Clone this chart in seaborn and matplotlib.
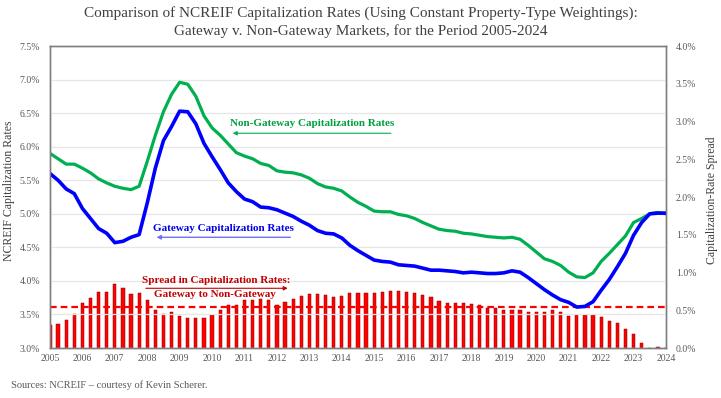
import matplotlib
matplotlib.use('Agg')
import matplotlib.pyplot as plt
import seaborn as sns
import numpy as np
import pandas as pd

# quarterly NCREIF cap rates (%), 2005Q1 - 2024Q1
quarters = pd.period_range('2005Q1', '2024Q1', freq='Q')
non_gateway = [5.90, 5.82, 5.74, 5.74, 5.68, 5.61, 5.52, 5.46, 5.41, 5.38,
               5.36, 5.41, 5.78, 6.17, 6.52, 6.78, 6.96, 6.93, 6.75, 6.46,
               6.28, 6.17, 6.04, 5.91, 5.86, 5.82, 5.75, 5.72, 5.64, 5.62,
               5.61, 5.58, 5.53, 5.45, 5.40, 5.38, 5.34, 5.25, 5.17, 5.11,
               5.04, 5.03, 5.03, 4.99, 4.97, 4.93, 4.87, 4.82, 4.77, 4.75,
               4.74, 4.71, 4.70, 4.68, 4.66, 4.65, 4.64, 4.65, 4.62, 4.53,
               4.43, 4.33, 4.29, 4.23, 4.13, 4.06, 4.05, 4.12, 4.29, 4.41,
               4.54, 4.67, 4.87, 4.93, 5.00, 5.02, 5.00]
gateway = [5.60, 5.50, 5.37, 5.30, 5.08, 4.93, 4.78, 4.71, 4.57, 4.59,
           4.65, 4.69, 5.16, 5.68, 6.09, 6.30, 6.53, 6.52, 6.34, 6.05,
           5.85, 5.66, 5.46, 5.33, 5.22, 5.18, 5.10, 5.09, 5.06, 5.01,
           4.96, 4.89, 4.83, 4.75, 4.71, 4.70, 4.64, 4.53, 4.45, 4.38,
           4.31, 4.29, 4.28, 4.24, 4.23, 4.22, 4.19, 4.16, 4.16, 4.15,
           4.14, 4.12, 4.13, 4.12, 4.11, 4.11, 4.12, 4.15, 4.13, 4.05,
           3.96, 3.87, 3.79, 3.72, 3.68, 3.61, 3.62, 3.69, 3.86, 4.02,
           4.21, 4.41, 4.68, 4.87, 5.00, 5.01, 5.01]
spread = [0.305, 0.32, 0.375, 0.45, 0.59, 0.66, 0.74, 0.74, 0.845, 0.80,
          0.72, 0.73, 0.64, 0.50, 0.45, 0.48, 0.43, 0.40, 0.40, 0.40,
          0.44, 0.50, 0.575, 0.57, 0.64, 0.64, 0.65, 0.64, 0.575, 0.615,
          0.655, 0.695, 0.71, 0.71, 0.70, 0.67, 0.695, 0.73, 0.725, 0.725,
          0.73, 0.74, 0.75, 0.75, 0.74, 0.735, 0.70, 0.67, 0.62, 0.59,
          0.60, 0.60, 0.585, 0.57, 0.535, 0.535, 0.51, 0.505, 0.505, 0.48,
          0.48, 0.475, 0.51, 0.48, 0.42, 0.44, 0.44, 0.44, 0.415, 0.36,
          0.33, 0.25, 0.18, 0.06, 0.0, 0.02, -0.01]
spread_avg = 0.54
year_ticks = list(range(2005, 2025))

sns.set_theme(style='white')
plt.rcParams['font.family'] = ['Liberation Serif', 'DejaVu Serif']

t = quarters.year + (quarters.quarter - 1) / 4
df = pd.DataFrame({'t': t, 'non_gateway': non_gateway, 'gateway': gateway, 'spread': spread})

fig = plt.figure(figsize=(7.21, 3.98), dpi=100)
ax = fig.add_axes([0.0693, 0.1256, 0.8544, 0.7588])
ax2 = ax.twinx()

# spread bars on the right axis
sns.barplot(data=df, x='t', y='spread', ax=ax2, native_scale=True, width=0.4,
            color='#ff0000', saturation=1, edgecolor='#8a0000', linewidth=0.35, errorbar=None)
ax2.axhline(spread_avg, color='#ff0000', lw=1.6, ls=(0, (3, 1.8)))

# cap rate lines on the left axis, drawn above the bars
ax.set_zorder(ax2.get_zorder() + 1)
ax.patch.set_visible(False)
sns.lineplot(data=df, x='t', y='non_gateway', ax=ax, color='#00b050', lw=2.3)
sns.lineplot(data=df, x='t', y='gateway', ax=ax, color='#0000ff', lw=2.6)

ax.set_xlim(2005, 2024)
ax.set_ylim(3.0, 7.5)
ax2.set_ylim(0, 4)
ax.set_xticks(year_ticks)
ax.set_xticklabels([str(y) for y in year_ticks])
lt = np.arange(3.0, 7.51, 0.5)
ax.set_yticks(lt)
ax.set_yticklabels(['%.1f%%' % v for v in lt])
rt = np.arange(0, 4.01, 0.5)
ax2.set_yticks(rt)
ax2.set_yticklabels(['%.1f%%' % v for v in rt])
ax.set_xlabel('')
ax.set_ylabel('')
ax2.set_xlabel('')
ax2.set_ylabel('')

ax.yaxis.grid(True, color='#e6e6e6', lw=0.9)
ax.set_axisbelow(True)
for a in (ax, ax2):
    for s in a.spines.values():
        s.set_color('#7f7f7f')
        s.set_linewidth(1.0)
ax.tick_params(axis='y', length=0, pad=7, labelsize=7, labelcolor='#595959')
ax.tick_params(axis='x', length=0, pad=4, labelsize=7, labelcolor='#595959')
ax2.tick_params(axis='y', length=0, pad=7, labelsize=7, labelcolor='#595959')

# annotations
ax.text(2013.08, 6.35, 'Non-Gateway Capitalization Rates', color='#00a040', fontsize=8,
        fontweight='bold', ha='center', va='center')
ax.annotate('', xy=(2010.55, 6.20), xytext=(2015.6, 6.20),
            arrowprops=dict(arrowstyle='-|>', color='#00b050', lw=0.8, mutation_scale=6))
ax.text(2010.35, 4.78, 'Gateway Capitalization Rates', color='#0000ee', fontsize=8,
        fontweight='bold', ha='center', va='center')
ax.annotate('', xy=(2008.2, 4.65), xytext=(2012.5, 4.65),
            arrowprops=dict(arrowstyle='-|>', color='#6f6fff', lw=1.0, mutation_scale=6))
ax.text(2010.14, 4.0, 'Spread in Capitalization Rates:', color='#c00000', fontsize=8,
        fontweight='bold', ha='center', va='center')
ax.text(2010.1, 3.80, 'Gateway to Non-Gateway', color='#c00000', fontsize=8,
        fontweight='bold', ha='center', va='center')
ax.annotate('', xy=(2012.42, 3.89), xytext=(2007.87, 3.89),
            arrowprops=dict(arrowstyle='-|>', color='#c00000', lw=0.8, mutation_scale=6))

fig.text(0.5, 1 - 13 / 398, 'Comparison of NCREIF Capitalization Rates (Using Constant Property-Type Weightings):',
         ha='center', va='center', fontsize=11, color='#404040')
fig.text(0.5, 1 - 31 / 398, 'Gateway v. Non-Gateway Markets, for the Period 2005-2024',
         ha='center', va='center', fontsize=11, color='#404040')
fig.text(9 / 721, 0.52, 'NCREIF Capitalization Rates', rotation=90, ha='center', va='center',
         fontsize=8.5, color='#404040')
fig.text(712 / 721, 0.497, 'Capitalization-Rate Spread', rotation=90, ha='center', va='center',
         fontsize=8.5, color='#404040')
fig.text(11 / 721, 1 - 385 / 398, 'Sources: NCREIF \u2013 courtesy of Kevin Scherer.',
         ha='left', va='center', fontsize=7.5, color='#595959')

fig.savefig('out.png', dpi=100)
